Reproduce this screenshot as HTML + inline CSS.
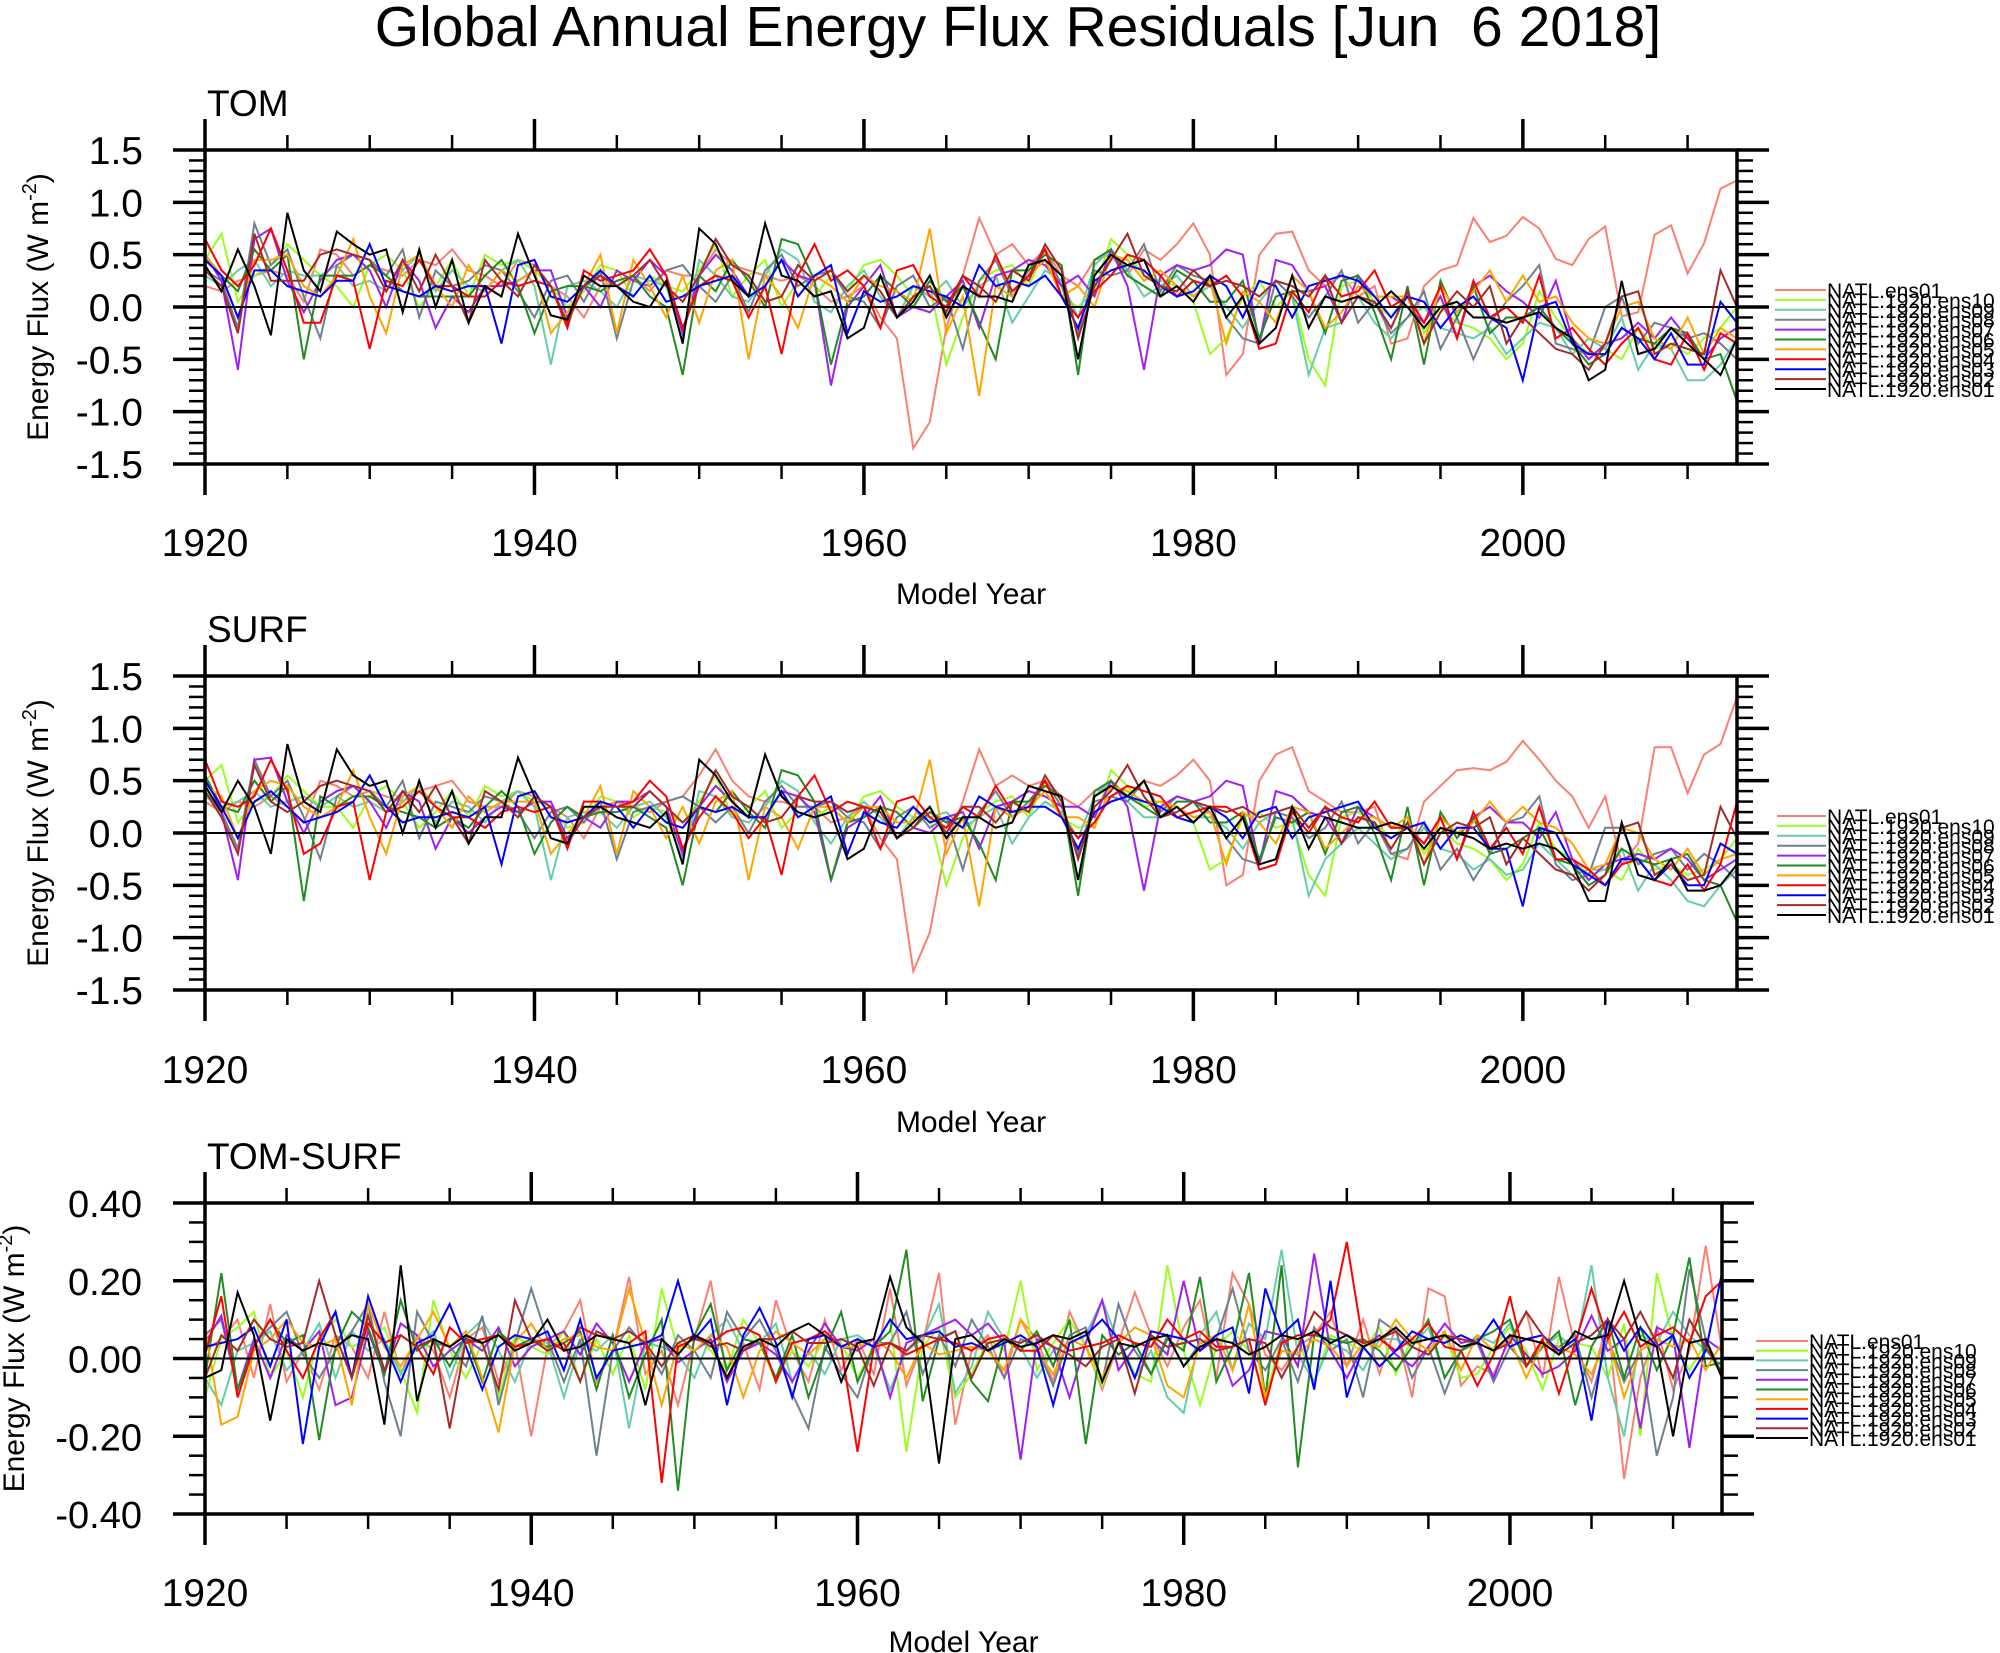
<!DOCTYPE html>
<html><head><meta charset="utf-8"><title>Global Annual Energy Flux Residuals</title>
<style>
html,body{margin:0;padding:0;background:#fff;}
svg{display:block;font-family:"Liberation Sans",sans-serif;}
</style></head>
<body>
<svg id="chart" xmlns="http://www.w3.org/2000/svg" width="2000" height="1653" viewBox="0 0 2000 1653">
<text x="1018" y="46" font-size="57" text-anchor="middle" xml:space="preserve">Global Annual Energy Flux Residuals [Jun  6 2018]</text>
</svg>
<script>
const startYear = 1920;
const seriesLabels = ["NATL.ens01","NATL.1920.ens10","NATL.1920.ens09","NATL.1920.ens08","NATL.1920.ens07","NATL.1920.ens06","NATL.1920.ens05","NATL.1920.ens04","NATL.1920.ens03","NATL.1920.ens02","NATL.1920.ens01"];
const seriesColors = ["#fa8072","#9aff20","#66cdaa","#708090","#a020f0","#228b22","#ffa500","#ff0000","#0000ff","#a52a2a","#000000"];
const xTickLabels = [1920,1940,1960,1980,2000];
const fluxTickLabels = ["1.5","1.0","0.5","0.0","-0.5","-1.0","-1.5"];
const diffTickLabels = ["0.40","0.20","0.00","-0.20","-0.40"];

const tomS01=[.2,.15,.25,.3,.35,.3,.05,.55,.5,.3, .4,.35,.3,.45,.4,.55,.35,.3,.2,.45, .4,.2,.1,-.1,.2,.25,.3,.15,.35,.3, .3,.55,.4,.35,.3,.25,.3,.2,.05,.1, .2,-.1,-.3,-1.35,-1.1,-.2,.3,.85,.5,.6, .4,.55,.3,.2,.45,.5,.3,.55,.45,.6, .8,.5,-.65,-.45,.5,.7,.72,.35,.2,.3, .1,.2,-.35,-.3,.2,.35,.4,.85,.62,.68, .86,.75,.46,.4,.65,.77,-.09,-.05,.69,.78, .32,.61,1.13,1.21];
const tomE10=[.45,.7,.05,.3,.4,.6,.45,.3,.2,0, .4,.5,.35,0,.2,.45,.1,.5,.4,.45, .35,.2,0,.15,.4,.35,.1,.3,.2,.15, .35,.6,.1,.3,.45,0,.25,.1,.3,.15, .4,.45,.3,.1,.2,-.55,-.1,.25,.35,.4, .2,.55,.1,0,.15,.65,.5,.3,.25,.2, .05,-.45,-.3,.1,.25,0,.15,-.5,-.75,.2, .25,.05,-.1,.15,-.25,0,-.15,-.2,-.3,-.5, -.35,.15,-.1,-.3,-.45,-.4,-.5,-.2,-.4,-.35, -.45,-.3,-.2,0];
const tomE09=[.3,.2,.35,.45,.2,.35,.3,.3,.4,.2, .25,.15,.35,.5,.15,.35,.2,.15,.35,.45, .2,-.55,.2,.25,.15,0,.3,.25,.2,-.3, .45,.3,.1,.05,.3,.55,.45,.05,-.05,.2, .35,.1,-.1,.2,.1,.25,0,.2,.3,-.15, .1,.35,.25,-.1,.4,.55,.35,.1,.2,.3, .1,.2,0,-.2,.05,.25,.1,-.65,-.2,-.15, .1,-.15,-.3,-.1,0,-.2,-.25,-.3,-.2,-.45, -.3,-.15,-.2,-.45,-.3,-.4,-.1,-.6,-.35,-.4, -.7,-.7,-.55,-.3];
const tomE08=[.35,.25,-.2,.8,.4,.55,.1,-.3,.4,.5, .45,.3,.55,-.1,.35,.2,.25,.4,.35,.15, -.1,.25,.3,.05,.35,-.3,.25,.2,.35,.4, .2,.05,.3,-.05,.35,.5,.2,.3,.35,.1, .05,-.2,.2,.3,0,.1,-.4,.25,.45,.1, .35,.55,.2,-.25,.35,.3,.35,.6,.15,.4, .3,.25,-.1,-.3,-.35,.25,.1,-.1,.1,.35, -.15,.05,-.25,-.1,.15,-.4,-.1,-.5,-.15,.05, .2,.4,-.35,-.4,-.45,0,.1,-.35,-.15,-.2, -.3,-.25,-.35,-.5];
const tomE07=[.5,.25,-.6,.65,.75,.25,-.05,.25,.45,.5, .35,0,.45,.25,-.2,.1,-.05,.2,.2,.25, .35,.35,-.1,.2,0,.35,.25,.45,.3,-.25, .3,.5,.35,.1,.2,.45,.3,.25,-.75,0, .2,.4,-.1,0,-.05,.1,.25,-.2,.3,.35, .45,.4,.2,.3,.1,.55,.2,-.6,.3,.4, .35,.4,.55,.5,-.35,.45,.4,.15,.2,-.15, .3,.1,.1,0,-.15,.1,-.3,.2,.3,.15, .05,-.1,.25,-.3,-.5,-.35,-.3,-.15,-.3,-.1, -.3,-.5,-.3,-.2];
const tomE06=[.5,.3,.15,.55,.35,.5,-.5,.3,.3,.3, .4,.3,.15,.1,.1,.1,.1,.3,.45,.2, -.25,.15,.2,.2,.15,.25,.3,.1,0,-.65, .3,.15,.45,.25,0,.65,.6,.25,-.55,.05, .1,.3,.15,0,.25,.05,.2,-.15,-.5,.35, .35,.5,.4,-.65,.45,.55,.3,.2,.1,.35, .25,.05,.05,.25,-.3,.1,.15,.15,-.25,.25, .3,-.05,-.5,.2,-.55,.25,-.1,.2,-.25,-.1, -.1,0,-.2,-.35,-.55,-.45,-.2,-.3,-.35,-.2, -.25,-.5,-.45,-.9];
const tomE05=[.5,.3,-.1,.45,.45,.5,.2,.1,.3,.65, .1,-.25,.4,.5,.2,0,.4,.15,.35,.25, .35,-.25,-.05,.2,.5,-.25,.45,.2,-.1,.3, -.15,.35,.45,-.5,.3,.1,-.2,.3,.2,.05, .3,.2,.15,.05,.75,-.25,.1,-.85,.2,.1, .3,.45,.1,.2,0,.5,.45,.25,.35,.2, .1,.25,-.35,.15,.05,-.15,.3,.15,-.2,-.05, .2,.1,.1,.1,-.35,.2,-.05,.15,.35,.05, .3,.05,.1,-.15,-.3,-.35,0,.05,-.3,-.4, -.1,-.45,-.2,-.3];
const tomE04=[.65,.35,.2,.4,.75,.35,-.15,-.15,.3,.25, -.4,.25,.2,.45,.2,.2,.1,.1,.25,.2, .25,.2,-.2,.35,.25,.3,.35,.55,.3,-.2, .2,.3,.25,-.1,.2,-.45,.3,.6,.25,.35, .2,-.2,.35,.4,.1,0,.3,.1,.5,.15, .3,.55,.1,-.1,.15,.3,.5,.45,.3,.1, .25,.2,.3,.1,-.4,-.35,.15,-.05,.3,.1, .15,.35,0,.1,-.15,.2,-.3,.25,-.1,0, -.15,.3,-.3,-.2,-.4,-.55,-.35,-.2,-.5,-.55, -.25,-.6,-.25,-.35];
const tomE03=[.45,.3,-.1,.35,.35,.2,.15,.1,.25,.25, .6,.2,.15,.1,.2,.15,.2,.2,-.35,.4, .45,.1,.05,.2,.35,.2,.1,.3,.05,.1, .2,.25,.3,.1,.2,.45,.1,.3,.4,-.25, .15,.05,.1,.2,.15,.1,0,.4,.2,.25, .2,.3,.1,-.2,.25,.35,.4,.35,.2,.1, .15,.3,.2,-.1,.25,.2,-.1,.2,.25,.3, .25,.1,-.1,.1,.05,-.2,0,.1,-.1,-.2, -.7,0,.05,-.35,-.45,-.45,-.2,-.3,-.5,-.25, -.55,-.55,.05,-.15];
const tomE02=[.35,.2,-.25,.7,.25,.25,.25,.5,.55,.5, .45,.15,.45,.15,.5,.2,-.15,.45,.25,.1, .4,.2,-.15,.2,.3,.2,.3,.45,.2,.05, .3,.65,.4,.3,.05,.1,.4,.25,.35,.15, .3,.15,-.1,.1,.2,-.05,.3,.2,.05,.35, .25,.6,.35,-.3,.2,.45,.7,.3,.2,.15, .35,.2,.25,.2,.1,.25,.2,.1,.3,-.15, .1,.05,-.2,.15,-.35,-.05,.15,0,.2,-.35, -.1,-.25,-.4,-.45,-.6,-.35,.1,.15,-.45,-.35, -.4,-.45,.35,0];
const tomE01=[.4,.15,.55,.2,-.27,.9,.35,.15,.72,.6, .5,.55,-.05,.55,0,.45,-.15,.2,.1,.7, .3,-.08,-.12,.3,.2,.2,.05,0,.25,-.35, .75,.6,.25,.1,.8,.3,.25,.1,.15,-.3, -.2,.3,-.1,.05,.3,-.1,.2,.1,.1,.05, .4,.45,.3,-.5,.3,.5,.4,.45,.1,.2, .05,.3,-.1,.1,-.35,-.2,.3,-.2,.1,.05, .1,0,.15,0,-.2,0,.05,-.1,-.1,-.15, -.1,-.05,-.2,-.3,-.7,-.6,.25,-.45,-.4,-.2, -.35,-.5,-.65,-.3];

const surfS01=[.3,.2,.3,.25,.35,.25,.1,.5,.45,.35, .4,.35,.3,.4,.45,.5,.3,.25,.25,.4, .35,.25,.15,-.05,.25,.3,.25,.2,.3,.35, .55,.8,.5,.35,.3,.3,.25,.25,.1,.15, .25,-.05,-.25,-1.32,-.95,-.1,.3,.8,.45,.55, .45,.5,.35,.25,.4,.45,.35,.5,.45,.55, .7,.5,-.5,-.4,.5,.75,.82,.4,.3,.2, .2,.25,-.2,-.25,.3,.45,.6,.62,.6,.68, .88,.7,.5,.35,.05,.35,-.3,-.1,.82,.82, .38,.75,.85,1.3];
const surfE10=[.5,.65,.1,.3,.35,.55,.4,.25,.25,.05, .35,.45,.3,.05,.2,.4,.15,.45,.35,.4, .3,.25,.05,.1,.35,.3,.15,.25,.2,.1, .3,.55,.15,.25,.4,.05,.2,.15,.25,.1, .35,.4,.25,.15,.15,-.5,-.05,.2,.3,.35, .15,.5,.15,.05,.1,.6,.45,.25,.3,.15, .1,-.35,-.25,.15,.2,.05,.1,-.4,-.6,.15, .2,.1,-.05,.1,-.2,.05,-.1,-.15,-.25,-.45, -.3,.1,-.15,-.25,-.4,-.35,-.45,-.15,-.35,-.3, -.4,-.35,-.25,-.05];
const surfE09=[.35,.25,.3,.4,.25,.3,.35,.25,.35,.25, .3,.2,.3,.45,.1,.3,.25,.1,.3,.4, .25,-.45,.15,.2,.2,.05,.25,.3,.15,-.25, .4,.35,.15,.1,.25,.5,.4,.1,-.1,.15, .3,.15,-.05,.15,.15,.2,.05,.15,.25,-.1, .15,.3,.2,-.05,.35,.5,.3,.15,.15,.25, .15,.15,.05,-.15,.1,.2,.15,-.6,-.25,-.1, .05,-.1,-.25,-.15,.05,-.15,-.2,-.35,-.25,-.4, -.35,-.1,-.25,-.4,-.35,-.35,-.15,-.55,-.3,-.45, -.65,-.7,-.5,-.35];
const surfE08=[.4,.2,-.15,.7,.35,.5,.15,-.25,.35,.45, .4,.25,.5,-.05,.3,.25,.2,.35,.3,.2, -.05,.2,.25,.1,.3,-.25,.2,.25,.3,.35, .25,.1,.25,0,.3,.45,.25,.25,.3,.15, .1,-.15,.15,.25,.05,.15,-.35,.2,.4,.15, .3,.5,.25,-.2,.3,.35,.3,.5,.2,.35, .3,.2,-.05,-.25,-.3,.2,.15,-.05,.05,.3, -.1,.1,-.2,-.15,.1,-.35,-.15,-.45,-.2,.1, .15,.35,-.3,-.45,-.4,.05,.05,-.3,-.2,-.15, -.35,-.2,-.3,-.45];
const surfE07=[.55,.2,-.45,.7,.72,.3,0,.3,.4,.45, .3,.05,.4,.3,-.15,.15,0,.15,.25,.2, .3,.3,-.05,.15,.05,.3,.3,.4,.25,-.2, .25,.45,.3,.15,.15,.4,.35,.2,-.45,.05, .15,.35,-.05,.05,0,.15,.2,-.15,.25,.3, .4,.35,.25,.25,.15,.5,.25,-.55,.25,.35, .3,.35,.5,.45,-.3,.4,.35,.2,.15,-.1, .25,.15,.05,.05,-.1,.15,-.25,.15,.25,.1, .1,-.05,.2,-.25,-.45,-.3,-.25,-.2,-.25,-.15, -.25,-.45,-.35,-.25];
const surfE06=[.55,.25,.2,.5,.3,.45,-.65,.35,.25,.35, .35,.25,.2,.15,.05,.15,.05,.25,.4,.25, -.2,.1,.25,.15,.2,.2,.25,.15,.05,-.5, .25,.2,.4,.2,.05,.6,.55,.3,-.45,.1, .15,.25,.2,.05,.2,.1,.15,-.1,-.45,.3, .3,.45,.35,-.6,.4,.5,.35,.25,.15,.3, .3,.1,.1,.2,-.25,.15,.1,.2,-.2,.2, .25,0,-.45,.25,-.5,.2,-.05,.15,-.2,-.15, -.05,.05,-.25,-.3,-.5,-.4,-.15,-.25,-.3,-.25, -.2,-.45,-.5,-.85];
const surfE05=[.45,.35,-.05,.4,.5,.45,.25,.15,.25,.6, .15,-.2,.35,.45,.25,.05,.35,.2,.3,.3, .3,-.2,0,.15,.45,-.2,.4,.25,-.05,.25, -.1,.3,.4,-.45,.25,.15,-.15,.25,.25,.1, .25,.25,.1,.1,.7,-.2,.15,-.7,.25,.15, .25,.4,.15,.15,.05,.45,.4,.3,.3,.25, .15,.2,-.3,.2,.1,-.1,.25,.2,-.15,0, .15,.15,.05,.15,-.3,.15,0,.1,.3,.1, .25,.1,.05,-.1,-.35,-.3,.05,0,-.25,-.35, -.15,-.4,-.25,-.2];
const surfE04=[.7,.3,.25,.35,.7,.4,-.2,-.1,.25,.3, -.45,.2,.25,.4,.25,.15,.15,.05,.2,.25, .2,.25,-.15,.3,.3,.25,.3,.5,.35,-.15, .15,.35,.2,-.05,.15,-.4,.35,.55,.2,.3, .25,-.15,.3,.35,.15,.05,.25,.15,.45,.2, .25,.5,.15,-.05,.1,.35,.45,.4,.35,.15, .2,.25,.25,.15,-.35,-.3,.2,0,.25,.15, .1,.3,.05,.05,-.1,.15,-.25,.2,-.15,.05, -.2,.25,-.25,-.25,-.35,-.5,-.3,-.25,-.45,-.5, -.3,-.55,-.3,.3];
const surfE03=[.5,.25,-.05,.3,.4,.25,.1,.15,.2,.3, .55,.25,.1,.15,.15,.2,.15,.25,-.3,.35, .4,.15,.1,.15,.3,.25,.05,.25,.1,.05, .25,.2,.25,.15,.15,.4,.15,.25,.35,-.2, .2,.1,.05,.25,.1,.15,.05,.35,.25,.2, .25,.25,.15,-.15,.2,.3,.35,.3,.25,.15, .1,.25,.15,-.05,.2,.25,-.05,.15,.2,.25, .3,.05,-.05,.05,.1,-.15,.05,.05,-.15,-.15, -.7,.05,0,-.3,-.4,-.5,-.25,-.25,-.45,-.3, -.5,-.5,-.1,-.2];
const surfE02=[.4,.15,-.2,.65,.3,.2,.3,.45,.5,.45, .4,.2,.4,.2,.45,.15,-.1,.4,.3,.15, .35,.25,-.1,.15,.25,.25,.25,.4,.25,.1, .25,.6,.35,.25,.1,.15,.35,.3,.3,.2, .25,.2,-.05,.05,.25,0,.25,.25,.1,.3, .2,.55,.3,-.25,.25,.4,.65,.35,.15,.2, .3,.25,.2,.25,.15,.2,.25,.05,.25,-.1, .15,.1,-.15,.1,-.3,0,.1,.05,.15,-.3, -.05,-.2,-.35,-.4,-.55,-.4,.05,.1,-.4,-.3, -.45,-.4,.25,-.05];
const surfE01=[.45,.2,.5,.25,-.2,.85,.3,.2,.8,.55, .45,.5,0,.5,.05,.4,-.1,.15,.15,.72, .35,-.05,-.1,.25,.25,.15,.1,.05,.2,-.3, .7,.55,.3,.15,.75,.35,.2,.15,.2,-.25, -.15,.25,-.05,.1,.25,-.05,.15,.15,.05,.1, .45,.4,.35,-.45,.35,.45,.35,.5,.15,.25, .1,.25,-.05,.15,-.3,-.25,.25,-.15,.15,.1, .05,.05,.1,.05,-.15,.05,0,-.05,-.15,-.1, -.15,-.1,-.15,-.3,-.65,-.65,.1,-.4,-.45,-.25, -.55,-.55,-.5,-.3];

const diffS01=[.02,.05,.1,-.05,.14,-.06,.02,-.08,.06,.03, -.05,.12,-.04,.06,.02,-.1,.05,.08,-.06,.04, -.2,.03,.07,.15,-.06,.02,.21,-.04,.02,-.12, .05,.2,-.05,.04,-.08,.15,.02,-.06,.1,-.03, .05,-.04,.18,-.07,.04,.22,-.17,.02,.06,-.05, .1,.05,-.06,.12,.03,-.08,.04,.17,.06,-.02, .08,.15,-.05,.22,.14,.01,-.03,.03,.06,.12, -.02,.1,-.04,.08,-.1,.18,.16,-.07,-.02,-.04, .05,.12,-.05,.21,.03,-.06,.1,-.31,-.05,.08, -.08,.02,.29,.02];
const diffE10=[-.1,.05,.08,.12,-.05,.02,-.1,.06,.1,.03, .05,.08,-.03,-.14,.15,.02,-.05,.04,-.1,.06, .03,.01,.07,-.06,.05,-.04,.06,-.08,.18,.02, .06,.02,-.03,.1,.04,-.06,.02,-.02,.05,.04, -.05,.03,.1,-.24,.03,.08,-.1,-.04,.05,.02, .2,-.03,.04,.1,.03,-.07,.05,-.04,-.06,.24, .02,-.12,.03,.07,.02,-.1,.05,.05,-.06,.06, .04,.02,.08,-.04,.05,.02,.06,-.05,-.04,.03, .08,.02,-.08,.05,.04,.03,-.05,.09,-.2,.22, .05,-.03,.04,-.05];
const diffE09=[-.05,-.12,.02,.04,.07,-.03,.02,.09,-.05,.07, .02,.05,-.04,.03,.07,-.05,.06,.1,.02,-.06, .05,.04,-.1,.04,.02,.06,-.18,.04,.03,.01, -.05,.06,.1,.02,.04,.09,-.06,.02,-.04,.05, .06,.03,-.08,.02,.05,.14,-.09,-.02,.12,.05, .03,-.05,.02,.04,.06,.15,.04,-.05,.02,-.1, -.14,.06,.12,-.03,.09,.05,.28,.01,-.06,.04, .02,-.03,.05,.05,.03,.08,-.05,.02,.06,.04, .09,-.02,.03,.06,.02,.24,-.05,-.2,.06,.04, .12,.06,.02,-.02];
const diffE08=[.06,.1,-.08,.04,.08,.12,.01,-.05,.02,.07, .14,-.06,-.2,.12,.04,.03,-.02,.11,-.12,.04, .18,.05,-.06,.05,-.25,.02,.08,.03,-.04,.06, .02,-.05,.12,.05,.1,.02,-.09,-.18,.03,-.04, -.1,.04,.04,.12,-.04,.06,-.02,.1,.03,-.05, .05,.03,-.07,.06,.08,-.06,.14,.02,-.04,.06, -.02,.04,.05,.18,.02,-.03,.05,-.06,.08,.02, .05,-.1,.1,.07,-.05,.03,-.09,.02,.04,-.06, .03,-.02,.04,.03,.06,-.1,.05,-.06,.02,-.25, -.1,.23,.05,-.04];
const diffE07=[.04,.11,-.08,.05,-.05,.06,.02,.07,-.12,-.1, .07,-.04,.09,.06,-.02,.02,.05,.02,.08,-.02, .03,.05,.07,.01,.09,.04,-.06,.04,.05,-.01, .02,.05,-.06,.02,.04,.01,-.06,.02,.09,.03, .02,.05,-.1,.04,.06,.08,.1,.06,.09,.04, -.26,.05,.03,-.1,.04,.15,-.03,.03,.05,.01, .2,.02,.05,-.07,-.03,.07,.06,-.02,.27,.02, -.05,.03,.06,.01,-.02,.03,.09,.04,.05,-.05, .06,.01,-.04,-.02,.02,.11,.02,.05,-.18,.08, .06,-.23,.05,.02];
const diffE06=[-.05,.22,-.08,.03,.1,.04,.06,-.21,.03,.12, .08,-.04,.15,.02,.05,-.02,.06,-.06,.07,.03, .05,.03,.04,.07,-.08,.06,-.1,.01,.1,-.34, .06,.14,-.03,.05,.04,-.05,.06,-.1,.02,.12, -.06,.03,.07,.28,-.11,.05,.07,-.06,-.11,.05, .02,.07,-.02,.1,-.22,.06,.01,.04,-.04,.05, .02,.21,-.06,.03,.22,-.1,.24,-.28,.06,.05, .04,.05,.02,-.03,.03,.1,-.05,.02,.05,.07, .1,-.02,.03,.07,-.12,.03,.1,-.05,.08,-.03, .06,.26,-.02,-.01];
const diffE05=[.08,-.17,-.15,.02,.05,.1,.04,.03,.05,-.12, .14,.03,-.02,.05,.12,.03,.07,-.05,-.19,.04, .09,.02,.05,.06,.03,.02,.18,.04,-.12,.04, .02,.06,.03,-.1,.02,.07,.04,.01,.05,.03, .03,.05,.02,-.05,.04,.01,.02,.03,.02,-.03, .1,.02,-.04,.05,.03,-.05,.04,.08,.06,-.07, -.1,.04,.06,-.03,.14,-.1,.02,.01,.05,.03, -.02,.04,.03,.1,.05,.02,.07,-.03,.06,.02, .05,-.05,.04,.03,.01,-.04,.06,-.1,.02,.05, .03,.05,-.03,.04];
const diffE04=[.01,.16,-.1,.03,.1,.02,-.05,.05,.12,-.05, .09,.04,.06,.03,-.04,.08,.04,.05,.06,.03, .04,.05,.02,.08,.06,.05,.04,.07,-.32,.03, .05,.04,.07,.08,.06,-.06,.04,.05,.07,.03, -.24,.03,.04,.01,.03,.05,.04,.02,.05,.06, .02,.02,.06,.02,.03,.04,.06,.04,.03,.1, .05,.07,.03,.03,.05,-.12,.04,.06,.06,.1, .3,.04,.05,.02,.05,.09,.03,.02,-.07,.01, .16,-.02,.05,-.09,.04,.18,.05,.12,.03,.06, .08,.04,.16,.2];
const diffE03=[.03,.04,.05,.08,-.02,.1,-.22,.03,.12,-.05, .16,.04,-.06,.04,.06,.14,.03,-.08,.03,.06, .05,.07,-.03,.1,-.05,.02,.03,.04,.06,.2, .05,.1,-.12,.06,.13,.04,-.1,.05,.06,.03, .05,.03,.1,.05,.06,.07,.03,.04,.02,.04, .06,.03,-.12,.04,.06,.1,.05,-.05,.07,.06, .05,.02,.06,.08,-.09,.18,.06,.1,-.08,.2, -.1,.03,-.02,.02,.07,.05,.04,.06,.04,.1, .03,.05,.06,.02,.05,-.16,.1,.02,.08,.03, .06,-.05,.02,.22];
const diffE02=[-.05,.06,.02,.1,.05,.03,.04,.2,.06,-.05, .11,-.03,.06,.03,.05,-.18,.05,.04,-.08,.15, .05,.02,.04,-.06,.07,.05,.07,.04,-.02,.04, .06,.03,.04,.02,.05,.05,.07,.04,.04,.05, .03,-.07,.04,.02,.06,.05,.07,-.05,.04,.05, .04,.06,.03,.01,-.02,.03,.05,-.09,.06,.03, .04,.05,.02,.03,.05,.04,-.05,.03,.12,.08, .06,.04,.05,.07,.03,.01,.06,.05,.04,.02, .04,.12,.06,.01,.04,.06,.1,.05,.12,.04, -.05,.1,.03,-.04];
const diffE01=[-.05,-.03,.17,.06,-.16,.05,.02,.04,.03,.06, .05,-.17,.24,-.11,.05,.03,.06,.04,.06,.02, .04,.1,.02,.03,.06,.05,.04,-.12,.05,.01, .06,.04,-.05,.03,.05,.03,.07,.09,.06,-.06, .04,.05,.21,.08,.04,-.27,.05,.06,.02,.05, .03,.04,.06,.05,.07,-.06,.04,.03,.05,.06, -.02,.03,.05,.04,.01,.03,.06,.05,.07,.04, .06,.03,.05,.08,.04,.05,.06,.03,.04,.02, .06,.05,.04,.01,.07,.05,.06,.2,.05,.03, -.2,.04,.05,-.05];

const tomSeries=[tomS01,tomE10,tomE09,tomE08,tomE07,tomE06,tomE05,tomE04,tomE03,tomE02,tomE01];
const surfSeries=[surfS01,surfE10,surfE09,surfE08,surfE07,surfE06,surfE05,surfE04,surfE03,surfE02,surfE01];
const diffSeries=[diffS01,diffE10,diffE09,diffE08,diffE07,diffE06,diffE05,diffE04,diffE03,diffE02,diffE01];

const NS="http://www.w3.org/2000/svg";
const svg=document.getElementById('chart');
function mk(tag,attrs,parent){const e=document.createElementNS(NS,tag);for(const k in attrs)e.setAttribute(k,attrs[k]);(parent||svg).appendChild(e);return e;}

function drawPanel(cfg){
  const g=mk('g',{});
  
  
  const L=cfg.left,R=cfg.right,T=cfg.top,B=cfg.bottom;
  const xs=y=>L+(y-1920)/(2013-1920)*(R-L);
  const ys=v=>B-(v-cfg.ymin)/(cfg.ymax-cfg.ymin)*(B-T);
  cfg.series.forEach((arr,i)=>{
    const pts=arr.map((v,j)=>xs(startYear+j).toFixed(1)+','+ys(v).toFixed(1)).join(' ');
    const pl=mk('polyline',{points:pts,fill:'none',stroke:seriesColors[i],'stroke-width':2,'stroke-linejoin':'miter'},g);
    
    
  });
  const zl=mk('line',{x1:L,x2:R,y1:ys(0),y2:ys(0),stroke:'#000','stroke-width':2},g);
  
  
  const fr=mk('rect',{x:L,y:T,width:R-L,height:B-T,fill:'none',stroke:'#000','stroke-width':3.5},g);
  
  
  for(let yr=1920;yr<=2013;yr+=5){
    const major=(yr%20===0), len=major?31:15, x=xs(yr);
    mk('line',{x1:x,x2:x,y1:T,y2:T-len,stroke:'#000','stroke-width':major?3.5:2.5},g);
    mk('line',{x1:x,x2:x,y1:B,y2:B+len,stroke:'#000','stroke-width':major?3.5:2.5},g);
  }
  xTickLabels.forEach(yr=>{
    const t=mk('text',{x:xs(yr),y:cfg.xLabelY,'font-size':39,'text-anchor':'middle'},g);
    t.textContent=yr;
    
    
  });
  const nMinor=Math.round((cfg.ymax-cfg.ymin)/cfg.minor);
  for(let k=0;k<=nMinor;k++){
    const v=cfg.ymin+k*cfg.minor, y=ys(v);
    const major=(k%cfg.perMajor===0), len=major?32:16;
    mk('line',{x1:L,x2:L-len,y1:y,y2:y,stroke:'#000','stroke-width':major?3.5:2.5},g);
    mk('line',{x1:R,x2:R+len,y1:y,y2:y,stroke:'#000','stroke-width':major?3.5:2.5},g);
  }
  cfg.yLabels.forEach((lab,k)=>{
    const t=mk('text',{x:cfg.yLabelX,y:ys(parseFloat(lab))+14,'font-size':cfg.yLabelSize,'text-anchor':'end'},g);
    t.textContent=lab;
    
    
  });
  const xt=mk('text',{x:(L+R)/2,y:cfg.xTitleY,'font-size':30,'text-anchor':'middle'},g);
  xt.textContent='Model Year';
  
  
  const cy=(T+B)/2;
  const yt=mk('text',{x:cfg.yTitleX,y:cy,'font-size':30,'text-anchor':'middle',transform:'rotate(-90 '+cfg.yTitleX+' '+cy+')'},g);
  yt.innerHTML='Energy Flux (W m<tspan dy="-12" font-size="20">-2</tspan><tspan dy="12">)</tspan>';
  
  
  const pt=mk('text',{x:L+2,y:T-34,'font-size':37},g);
  pt.textContent=cfg.title;
  
  
  seriesLabels.forEach((lab,i)=>{
    const y=cfg.legY+i*cfg.legStep;
    const lg=mk('g',{},g);
    
    
    mk('line',{x1:cfg.legX1,x2:cfg.legX2,y1:y,y2:y,stroke:seriesColors[i],'stroke-width':2},lg);
    const t=mk('text',{x:cfg.legX2+1,y:y+8,'font-size':21},lg);
    t.textContent=lab;
  });
}

drawPanel({key:'tom',title:'TOM',left:205,right:1737,top:150,bottom:464,ymin:-1.5,ymax:1.5,minor:0.1,perMajor:5,yLabels:fluxTickLabels,yLabelX:143,yLabelSize:39,series:tomSeries,xLabelY:556,xTitleY:604,yTitleX:48,legX1:1775,legX2:1826,legY:290,legStep:9.9});
drawPanel({key:'surf',title:'SURF',left:205,right:1737,top:676,bottom:990,ymin:-1.5,ymax:1.5,minor:0.1,perMajor:5,yLabels:fluxTickLabels,yLabelX:143,yLabelSize:39,series:surfSeries,xLabelY:1083,xTitleY:1132,yTitleX:48,legX1:1777,legX2:1826,legY:816,legStep:9.9});
drawPanel({key:'tom-surf',title:'TOM-SURF',left:205,right:1722,top:1203,bottom:1514,ymin:-0.4,ymax:0.4,minor:0.05,perMajor:4,yLabels:diffTickLabels,yLabelX:142,yLabelSize:38,series:diffSeries,xLabelY:1606,xTitleY:1652,yTitleX:24,legX1:1756,legX2:1808,legY:1341,legStep:9.7});
</script>
</body></html>
